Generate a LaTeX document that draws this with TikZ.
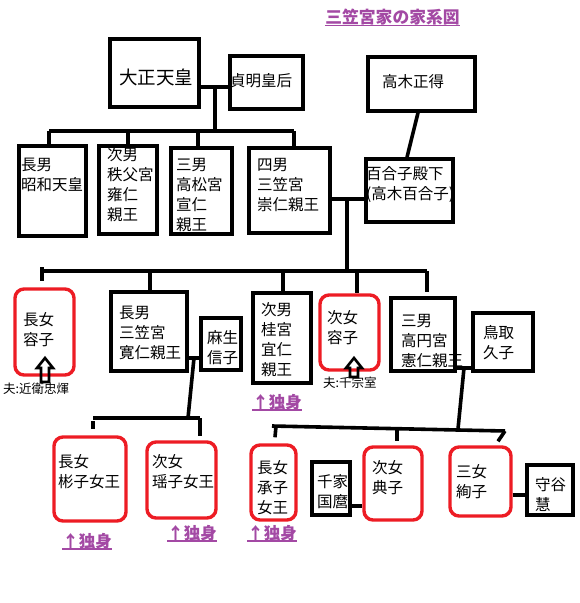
\documentclass[tikz,border=0pt]{standalone}
\usepackage{fontspec}
\setmainfont{Noto Sans CJK JP}
\usepackage{tikz}
\usetikzlibrary{calc}
\definecolor{paintred}{RGB}{237,28,36}
\definecolor{paintpurple}{RGB}{163,73,164}

\begin{document}
\begin{tikzpicture}[x=1pt, y=-1pt,
  every node/.style={inner sep=0pt, font=\fontsize{15.5}{20}\selectfont},
  box/.style args={#1/#2}{draw, line width=3.6pt, minimum width=#1pt, minimum height=#2pt},
  redbox/.style args={#1/#2}{draw=paintred, line width=3.4pt, rounded corners=9pt,
    minimum width=#1pt, minimum height=#2pt},
  txt/.style={anchor=west, align=left},
  famline/.style={line width=3.6pt},
  single/.style={font=\fontsize{16.5}{20}\selectfont\bfseries, text=paintpurple},
  husband/.style={anchor=west, font=\fontsize{12.5}{14}\selectfont},
  hollow/.style={line width=2.6pt, line join=miter}]
\fill[white] (0,0) rectangle (579,603);
\useasboundingbox (0,0) rectangle (579,603);
% ---- title
\node[single, font=\fontsize{16.8}{20}\selectfont\bfseries] (title) at (392.5,17) {三笠宮家の家系図};
\draw[paintpurple, line width=1.2pt] (title.south west) -- (title.south east);
% ---- first generation
\node[box=89/68] (taisho) at (154.5,73) {};
\node[txt, font=\fontsize{18.5}{20}\selectfont] (taishoT) at (119,77) {大正天皇};
\node[box=73/53] (teimei) at (266.5,82.5) {};
\node[txt] (teimeiT) at (230,81) {貞明皇后};
\node[box=107/54] (takagi) at (421.5,84) {};
\node[txt] (takagiT) at (382,82) {高木正得};
\coordinate (m1) at (215,87);
\draw[famline] (taisho.east |- m1) -- (teimei.west |- m1);
\coordinate (b1l) at (49,131);
\coordinate (b1r) at (294,131);
\draw[famline] (m1) -- (m1 |- b1l);
\draw[famline] (b1l) -- (b1r);
% ---- sons
\node[box=67/90] (showa) at (52.5,191) {};
\node[txt] (showaT) at (21,175) {長男\\昭和天皇};
\node[box=58/88] (chichibu) at (128,190) {};
\node[txt] (chichibuT) at (107,185) {次男\\秩父宮\\雍仁\\親王};
\node[box=61/86] (takamatsu) at (201.5,191) {};
\node[txt] (takamatsuT) at (176,195) {三男\\高松宮\\宣仁\\親王};
\node[box=81/85] (mikasa) at (289.5,190.5) {};
\node[txt] (mikasaT) at (257,185) {四男\\三笠宮\\崇仁親王};
\node[box=87/63] (yuriko) at (409.5,190.5) {};
\node[txt] (yurikoT) at (366,185) {百合子殿下\\(高木百合子)};
\coordinate (s2) at (128,131);
\coordinate (s3) at (198,131);
\draw[famline] (b1l) -- (b1l |- showa.north);
\draw[famline] (s2) -- (s2 |- chichibu.north);
\draw[famline] (s3) -- (s3 |- takamatsu.north);
\draw[famline] (b1r) -- ++(0,19);
\draw[famline] ([xshift=-3.5pt]takagi.south) -- ([xshift=-2.5pt]yuriko.north);
\coordinate (m2) at (347,199);
\draw[famline] (mikasa.east |- m2) -- (yuriko.west |- m2);
% ---- mikasa children
\coordinate (b2l) at (42,271);
\coordinate (b2r) at (427,271);
\draw[famline] (m2) -- (m2 |- b2l);
\draw[famline] (b2l) -- (b2r);
\node[redbox=59/86] (yasuko) at (44.5,332) {};
\node[txt] (yasukoT) at (23,330) {長女\\容子};
\node[box=76/79] (tomohito) at (149,331.5) {};
\node[txt] (tomohitoT) at (119,333) {長男\\三笠宮\\寛仁親王};
\node[box=40/52] (nobuko) at (221,344) {};
\node[txt] (nobukoT) at (207,348) {麻生\\信子};
\node[box=58/90] (katsura) at (282,338) {};
\node[txt] (katsuraT) at (261,340) {次男\\桂宮\\宜仁\\親王};
\node[redbox=59/75] (masako) at (349.5,332.5) {};
\node[txt] (masakoT) at (327,328) {次女\\容子};
\node[box=64/73] (takamado) at (423,334.5) {};
\node[txt] (takamadoT) at (401,341) {三男\\高円宮\\憲仁親王};
\node[box=60/58] (hisako) at (503,342) {};
\node[txt] (hisakoT) at (483,343) {鳥取\\久子};
\coordinate (c1) at (150,271);
\coordinate (c2) at (283,271);
\coordinate (c3) at (357,271);
\draw[famline] (42,267) -- ([yshift=6pt]yasuko.north -| b2l);
\draw[famline] (c1) -- (c1 |- tomohito.north);
\draw[famline] (c2) -- (c2 |- katsura.north);
\draw[famline] (c3) -- (c3 |- masako.north);
\draw[famline] (b2r) -- ([yshift=4pt]b2r |- takamado.north);
% husbands of the daughters
\draw[hollow] (45,358) -- ++(8,10) -- ++(-4,0) -- ++(0,14) -- ++(-8,0) -- ++(0,-14) -- ++(-4,0) -- cycle;
\node[husband] (konoe) at (3,389) {夫:近衛忠煇};
\draw[hollow] (354,358) -- ++(8,10) -- ++(-4,0) -- ++(0,9) -- ++(-8,0) -- ++(0,-9) -- ++(-4,0) -- cycle;
\node[husband] (sen) at (323,383) {夫:千宗室};
\node[single] (single1) at (277,402) {↑独身};
\draw[paintpurple, line width=1.2pt] (single1.south west) -- (single1.south east);
% ---- tomohito family
\coordinate (m3) at (194,358);
\draw[famline] (tomohito.east |- m3) -- (nobuko.west |- m3);
\coordinate (b3l) at (93,418);
\coordinate (b3r) at (200,418);
\draw[famline] (m3) -- (188,418);
\draw[famline] (b3l) -- (b3r);
\node[redbox=72/84] (akiko) at (90,479) {};
\node[txt] (akikoT) at (58,472) {長女\\彬子女王};
\node[redbox=69/76] (yoko) at (181.5,480) {};
\node[txt] (yokoT) at (152,472) {次女\\瑶子女王};
\draw[famline] ([yshift=-3pt]b3l) -- ([yshift=6pt]b3l |- akiko.north);
\draw[famline] (b3r) -- ([yshift=4pt]b3r |- yoko.north);
\node[single] (single2) at (87,541) {↑独身};
\draw[paintpurple, line width=1.2pt] (single2.south west) -- (single2.south east);
\node[single] (single3) at (192,533) {↑独身};
\draw[paintpurple, line width=1.2pt] (single3.south west) -- (single3.south east);
% ---- takamado family
\coordinate (m4) at (464,368);
\draw[famline] (takamado.east |- m4) -- (hisako.west |- m4);
\coordinate (b4l) at (272,426);
\coordinate (b4r) at (505,431);
\draw[famline] (m4) -- (458,429);
\draw[famline] (b4l) -- (b4r);
\node[redbox=45/75] (tsuguko) at (273.5,482.5) {};
\node[txt] (tsugukoT) at (257,488) {長女\\承子\\女王};
\node[box=38/53] (senge) at (331,488.5) {};
\node[txt] (sengeT) at (317,492) {千家\\国麿};
\node[redbox=58/73] (noriko) at (393,483.5) {};
\node[txt] (norikoT) at (372,478) {次女\\典子};
\node[redbox=61/69] (ayako) at (480.5,481.5) {};
\node[txt] (ayakoT) at (456,482) {三女\\絢子};
\node[box=46/50] (moriya) at (550,490) {};
\node[txt] (moriyaT) at (535,495) {守谷\\慧};
\coordinate (d2) at (397,428);
\draw[famline] (276,426) -- ([xshift=1.5pt, yshift=6pt]tsuguko.north);
\draw[famline] (d2) -- ([yshift=4pt]d2 |- noriko.north);
\draw[famline] (b4r) -- ([xshift=17.5pt, yshift=4pt]ayako.north);
\draw[famline] (senge.east |- 0,506) -- (noriko.west |- 0,506);
\draw[famline] (ayako.east |- 0,495) -- (moriya.west |- 0,495);
\node[single] (single4) at (272,533) {↑独身};
\draw[paintpurple, line width=1.2pt] (single4.south west) -- (single4.south east);
\end{tikzpicture}
\end{document}
